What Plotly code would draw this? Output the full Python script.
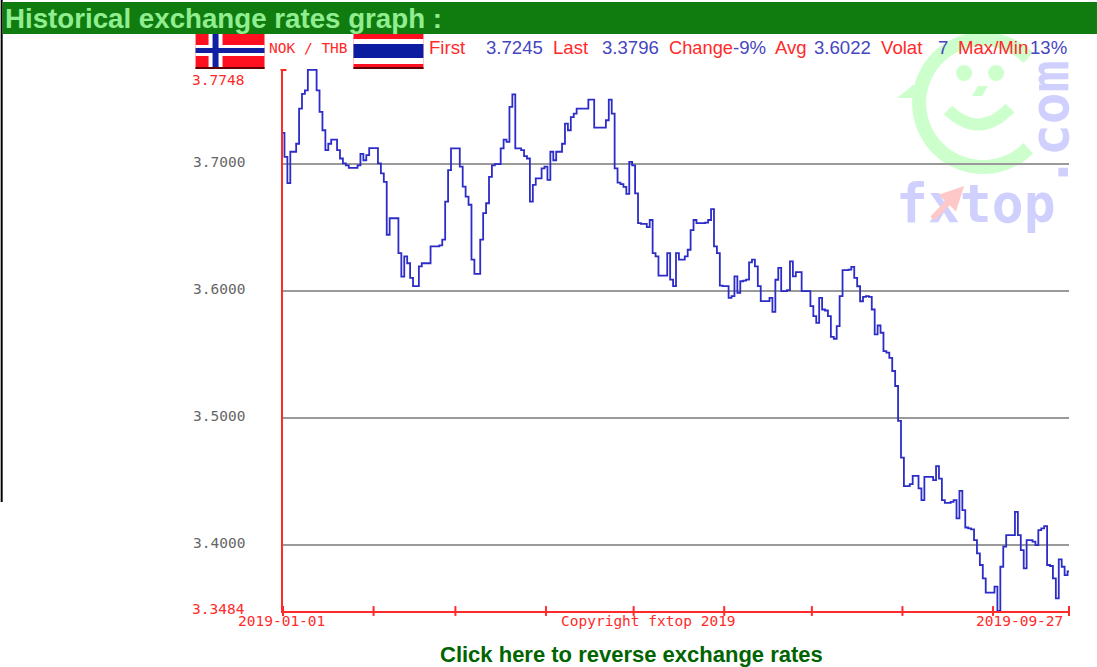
import math
import pandas as pd
import plotly.graph_objects as go

start_date = "2019-01-01"
end_date = "2019-09-27"

rates = [
 3.7245,3.7057,3.6850,3.7097,3.7097,3.7160,3.7436,3.7553,3.7580,3.7742,
 3.7742,3.7742,3.7580,3.7410,3.7266,3.7110,3.7160,3.7193,3.7193,3.7110,
 3.7044,3.7005,3.6990,3.6970,3.6970,3.6970,3.6990,3.7080,3.7030,3.7070,
 3.7125,3.7125,3.7125,3.7005,3.6927,3.6860,3.6444,3.6574,3.6574,3.6574,
 3.6300,3.6115,3.6274,3.6220,3.6104,3.6040,3.6040,3.6196,3.6220,3.6220,
 3.6220,3.6352,3.6352,3.6352,3.6360,3.6405,3.6705,3.6953,3.7123,3.7123,
 3.7123,3.6980,3.6822,3.6744,3.6680,3.6248,3.6136,3.6136,3.6405,3.6614,
 3.6692,3.6900,3.6990,3.7000,3.7000,3.7123,3.7193,3.7175,3.7450,3.7548,
 3.7123,3.7123,3.7110,3.7063,3.7044,3.6705,3.6836,3.6888,3.6888,3.6966,
 3.6980,3.6875,3.7097,3.7030,3.7097,3.7097,3.7160,3.7319,3.7266,3.7370,
 3.7397,3.7436,3.7436,3.7436,3.7436,3.7507,3.7507,3.7287,3.7287,3.7287,
 3.7287,3.7345,3.7507,3.7397,3.6966,3.6854,3.6843,3.6820,3.6765,3.7018,
 3.6990,3.6770,3.6535,3.6530,3.6530,3.6504,3.6560,3.6300,3.6274,3.6123,
 3.6123,3.6123,3.6300,3.6091,3.6040,3.6300,3.6248,3.6248,3.6274,3.6326,
 3.6480,3.6560,3.6535,3.6535,3.6535,3.6540,3.6560,3.6645,3.6352,3.6300,
 3.6044,3.6040,3.6040,3.5948,3.5961,3.6117,3.5987,3.6078,3.6083,3.6091,
 3.6227,3.6248,3.6196,3.6040,3.5922,3.5922,3.5922,3.5948,3.5838,3.6090,
 3.6183,3.6000,3.6000,3.6008,3.6235,3.6117,3.6150,3.6150,3.6000,3.6000,
 3.6000,3.5882,3.5804,3.5751,3.5948,3.5856,3.5848,3.5804,3.5641,3.5626,
 3.5725,3.5961,3.6165,3.6165,3.6170,3.6191,3.6105,3.6039,3.5921,3.5955,
 3.5961,3.5955,3.5856,3.5660,3.5730,3.5673,3.5529,3.5516,3.5476,3.5372,
 3.5254,3.4979,3.4691,3.4466,3.4466,3.4482,3.4547,3.4547,3.4448,3.4356,
 3.4539,3.4539,3.4539,3.4513,3.4623,3.4526,3.4356,3.4335,3.4335,3.4343,
 3.4356,3.4212,3.4429,3.4277,3.4141,3.4134,3.4126,3.4042,3.3937,3.3846,
 3.3741,3.3628,3.3628,3.3628,3.3675,3.3484,3.3832,3.3990,3.4081,3.4081,
 3.4081,3.4264,3.4081,3.3963,3.3819,3.4042,3.4042,3.4029,3.4003,3.4120,
 3.4134,3.4152,3.3846,3.3838,3.3741,3.3584,3.3890,3.3832,3.3767,3.3796,
]
dates = pd.date_range(start_date, periods=len(rates), freq="D")

tick_dates = ["2019-01-01","2019-02-01","2019-03-01","2019-04-01","2019-05-01",
              "2019-06-01","2019-07-01","2019-08-01","2019-09-01","2019-09-27"]
y_ticks = [3.7, 3.6, 3.5, 3.4]
y_labels = ["3.7000", "3.6000", "3.5000", "3.4000"]
y_min, y_max = 3.3484, 3.7748

W, H = 1097, 667
L, R, T, B = 282.5, 1069, 69, 611

RED = "#ff2a2a"
BLUE = "#4646c0"
MONO = "DejaVu Sans Mono"
SANS = "Liberation Sans"

def px(x, y):
    return (x - L) / (R - L), (B - y) / (B - T)

def rect(x0, y0, x1, y1, color, layer="above"):
    a, b = px(x0, y0)
    c, d = px(x1, y1)
    return dict(type="rect", xref="paper", yref="paper", x0=a, y0=b, x1=c, y1=d,
                fillcolor=color, line_width=0, layer=layer)

def poly(points, color, closed=True, width=0, layer="below"):
    s = "M " + " L ".join("%.5f,%.5f" % px(*p) for p in points) + (" Z" if closed else "")
    d = dict(type="path", xref="paper", yref="paper", path=s, layer=layer)
    if closed:
        d.update(fillcolor=color, line_width=0)
    else:
        d.update(line=dict(color=color, width=width))
    return d

def text(s, x, y, color, size, font=SANS, bold=False, anchor="left", angle=0):
    a, b = px(x, y)
    return dict(text=("<b>%s</b>" % s) if bold else s, xref="paper", yref="paper", x=a, y=b,
                xanchor=anchor, yanchor="middle", showarrow=False, textangle=angle,
                font=dict(color=color, size=size, family=font), borderpad=0, borderwidth=0)

shapes = []
# page furniture
shapes.append(rect(0, 0, 2, 502, "#000000"))
shapes.append(rect(2, 2, 1097, 34, "#107c10"))
shapes.append(rect(280, 69, 286, 71, RED))
# Norwegian flag
shapes += [rect(195, 34, 264, 69, "#ff1020"),
           rect(195, 67, 264, 69, "#600000"),
           rect(208, 34, 222, 67, "#ffffff"),
           rect(195, 45, 264, 56, "#ffffff"),
           rect(212, 34, 218, 67, "#1020a0"),
           rect(195, 48, 264, 53, "#1020a0")]
# Thai flag
shapes += [rect(353, 34, 423, 69, "#ff1020"),
           rect(353, 39, 423, 64, "#ffffff"),
           rect(353, 44, 423, 58, "#0c1ca0"),
           rect(353, 67, 423, 69, "#600000")]
# watermark: smiley
GREEN_W = "#ccffcc"
cx, cy, rr = 983, 103, 64
arc = [(cx + rr * math.cos(math.radians(a)), cy - rr * math.sin(math.radians(a))) for a in range(45, 316, 5)]
shapes.append(poly(arc, GREEN_W, closed=False, width=14))
shapes.append(poly([(897, 98), (913, 85), (925, 85), (925, 98)], GREEN_W))
for ex in (964, 996):
    a, b = px(ex - 8, 65)
    c, d = px(ex + 8, 81)
    shapes.append(dict(type="circle", xref="paper", yref="paper", x0=a, y0=b, x1=c, y1=d,
                       fillcolor=GREEN_W, line_width=0, layer="below"))
shapes.append(poly([(972, 96), (982, 96), (988, 86), (978, 86)], GREEN_W))
p0, p1, p2 = px(948, 110), px(979, 140), px(1010, 108)
shapes.append(dict(type="path", xref="paper", yref="paper", layer="below",
                   path="M %.5f,%.5f Q %.5f,%.5f %.5f,%.5f" % (*p0, *p1, *p2),
                   line=dict(color=GREEN_W, width=12)))

tip_x, tip_y = px(964, 186)
annotations = [
    text("fxtop", 896, 203, "#d0d0ff", 53, MONO, True),
    dict(text="", xref="paper", yref="paper", x=tip_x, y=tip_y, ax=-33, ay=34, showarrow=True,
         arrowhead=2, arrowsize=0.8, arrowwidth=6, arrowcolor="#ffc8c8"),
    text(".com", 1050, 124, "#d0d0ff", 53, MONO, True, anchor="center", angle=-90),
    text("Historical exchange rates graph :", 4, 18, "#90ee90", 27.7, SANS, True),
    text("NOK / THB", 268, 48, RED, 14.5, MONO),
    text("First", 429, 48, RED, 18.6),
    text("3.7245", 486, 48, BLUE, 18.6),
    text("Last", 553, 48, RED, 18.6),
    text("3.3796", 602, 48, BLUE, 18.6),
    text("Change", 669, 48, RED, 18.3),
    text("-9%", 733, 48, BLUE, 18.6),
    text("Avg", 775, 48, RED, 18.6),
    text("3.6022", 814, 48, BLUE, 18.6),
    text("Volat", 881, 48, RED, 18.6),
    text("7", 938, 48, BLUE, 18.6),
    text("Max/Min", 958, 48, RED, 18.6),
    text("13%", 1030, 48, BLUE, 18.6),
    text("3.7748", 191, 80, RED, 14.5, MONO),
    text("3.3484", 191, 609, RED, 14.5, MONO),
    text("2019-01-01", 281, 621, RED, 14.5, MONO, anchor="center"),
    text("Copyright fxtop 2019", 648, 621, RED, 14.5, MONO, anchor="center"),
    text("2019-09-27", 1019, 621, RED, 14.5, MONO, anchor="center"),
    text("Click here to reverse exchange rates", 631, 654, "#006400", 22, SANS, True, anchor="center"),
]
for val, lab in zip(y_ticks, y_labels):
    annotations.append(dict(text=lab, xref="paper", yref="y", x=px(190, 0)[0], y=val, yshift=2,
                            xanchor="left", yanchor="middle", showarrow=False,
                            font=dict(color="#666666", size=14.5, family=MONO)))

fig = go.Figure()
fig.add_trace(go.Scatter(x=dates, y=rates, mode="lines", cliponaxis=False,
                         line=dict(color="#2c2cc8", width=1.8, shape="hvh"), hoverinfo="skip"))
fig.add_trace(go.Scatter(x=tick_dates, y=[y_min] * len(tick_dates), mode="markers", cliponaxis=False,
                         marker=dict(symbol="line-ns", size=7, line=dict(color=RED, width=2)),
                         hoverinfo="skip"))
fig.update_layout(
    width=W, height=H, showlegend=False,
    margin=dict(l=L, r=W - R, t=T, b=H - B, pad=0, autoexpand=False),
    paper_bgcolor="#ffffff", plot_bgcolor="rgba(0,0,0,0)",
    shapes=shapes, annotations=annotations,
    xaxis=dict(type="date", range=[start_date, end_date], showgrid=False, zeroline=False,
               showline=True, linecolor=RED, linewidth=2, ticks="", showticklabels=False),
    yaxis=dict(range=[y_min, y_max], tickvals=y_ticks, showticklabels=False, showgrid=True,
               gridcolor="#9a9a9a", gridwidth=2, zeroline=False, showline=True, linecolor=RED,
               linewidth=2, ticks=""),
)
fig.write_html("out.html", config=dict(displayModeBar=False),
               post_script="document.body.style.margin='0';document.body.style.overflow='hidden';")
